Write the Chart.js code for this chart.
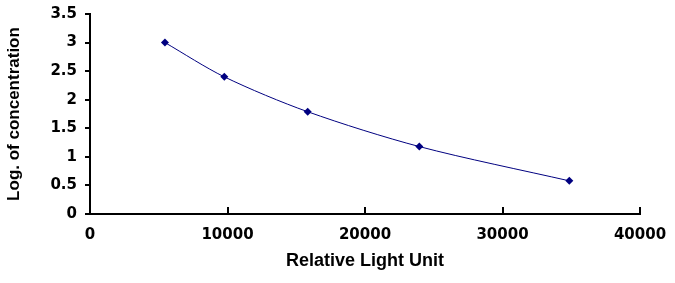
<!DOCTYPE html>
<html lang="en">
<head>
    <meta charset="UTF-8">
    <title>Standard curve</title>
    <script src="https://cdn.jsdelivr.net/npm/chart.js"></script>
    <style>
        html, body {
            margin: 0;
            padding: 0;
            background-color: #fff;
        }
        #curveChart {
            display: block;
        }
    </style>
</head>
<body>
    <canvas id="curveChart" width="675" height="283"></canvas>

    <script>
        // values
        const lightUnits = [5450, 9770, 15830, 23950, 34860];
        const logConc = [3.0, 2.4, 1.79, 1.18, 0.58];
        const xTicks = [0, 10000, 20000, 30000, 40000];
        const yTicks = [0, 0.5, 1, 1.5, 2, 2.5, 3, 3.5];

        const points = lightUnits.map((x, i) => ({ x: x, y: logConc[i] }));
        const navy = '#000080';

        // x tick marks point up into the plot, so draw them from the scale
        const innerTicks = {
            id: 'innerTicks',
            afterDraw(chart) {
                const xs = chart.scales.x;
                const ctx = chart.ctx;
                ctx.save();
                ctx.strokeStyle = '#000';
                ctx.lineWidth = 2;
                xTicks.forEach(v => {
                    if (v === 0) return;
                    const px = Math.round(xs.getPixelForValue(v));
                    ctx.beginPath();
                    ctx.moveTo(px, xs.top);
                    ctx.lineTo(px, xs.top - 7);
                    ctx.stroke();
                });
                ctx.restore();
            }
        };

        const tickFont = { family: '"DejaVu Sans", sans-serif', size: 15, weight: 'bold' };

        new Chart(document.getElementById('curveChart'), {
            type: 'scatter',
            data: {
                datasets: [{
                    data: points,
                    showLine: true,
                    tension: 0.3,
                    borderColor: navy,
                    borderWidth: 1,
                    backgroundColor: navy,
                    pointStyle: 'rectRot',
                    pointRadius: 4,
                    pointBorderWidth: 0
                }]
            },
            options: {
                responsive: false,
                animation: false,
                layout: {
                    padding: { left: 0, right: 35, top: 14, bottom: 7 }
                },
                plugins: {
                    legend: { display: false },
                    tooltip: { enabled: false }
                },
                scales: {
                    x: {
                        type: 'linear',
                        min: 0,
                        max: 40000,
                        afterBuildTicks: s => { s.ticks = xTicks.map(v => ({ value: v })); },
                        afterFit: s => {
                            s.height = 62;
                            s.paddingLeft = 0;
                            s.paddingRight = 0;
                        },
                        border: { display: true, color: '#000', width: 2 },
                        grid: { display: true, drawOnChartArea: false, drawTicks: false },
                        ticks: {
                            color: '#000',
                            font: tickFont,
                            padding: 12,
                            maxRotation: 0,
                            callback: v => String(v)
                        },
                        title: {
                            display: true,
                            text: 'Relative Light Unit',
                            color: '#000',
                            font: { family: '"Liberation Sans", Arial, sans-serif', size: 18, weight: 'bold' }
                        }
                    },
                    y: {
                        type: 'linear',
                        min: 0,
                        max: 3.5,
                        afterBuildTicks: s => { s.ticks = yTicks.map(v => ({ value: v })); },
                        afterFit: s => {
                            s.width = 90;
                            s.paddingTop = 0;
                            s.paddingBottom = 0;
                        },
                        border: { display: true, color: '#000', width: 2 },
                        grid: {
                            display: true,
                            drawOnChartArea: false,
                            drawTicks: true,
                            tickLength: 5,
                            color: '#000',
                            lineWidth: 2
                        },
                        ticks: {
                            color: '#000',
                            font: tickFont,
                            padding: 8,
                            callback: v => String(v)
                        },
                        title: {
                            display: true,
                            text: 'Log. of concentration',
                            color: '#000',
                            font: { family: '"Liberation Sans", Arial, sans-serif', size: 17, weight: 'bold' }
                        }
                    }
                }
            },
            plugins: [innerTicks]
        });
    </script>
</body>
</html>
